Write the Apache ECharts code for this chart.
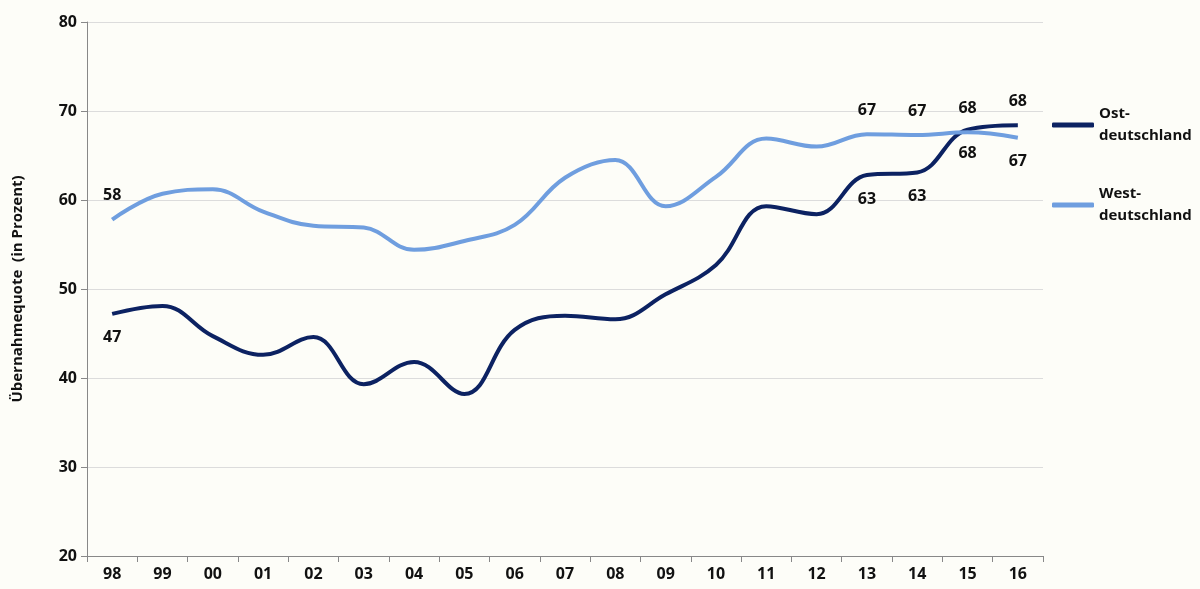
<!DOCTYPE html>
<html>
<head>
<meta charset="utf-8">
<script src="https://cdn.jsdelivr.net/npm/echarts@6/dist/echarts.min.js"></script>
<style>
  html, body { margin: 0; padding: 0; background: #fdfdf8; }
  #main { width: 1200px; height: 589px; }
</style>
</head>
<body>
<div id="main"></div>
<script>
  // Jahre (Kategorien)
  var years = ['98', '99', '00', '01', '02', '03', '04', '05', '06', '07', '08', '09', '10', '11', '12', '13', '14', '15', '16']
  // Übernahmequote in Prozent
  var ost = [47.2, 48.1, 44.7, 42.6, 44.6, 39.3, 41.8, 38.2, 45.4, 47.0, 46.6, 49.4, 52.7, 59.3, 58.4, 62.8, 63.1, 67.9, 68.4]
  var west = [57.8, 60.7, 61.2, 58.7, 57.1, 56.9, 54.4, 55.4, 57.2, 62.5, 64.5, 59.3, 62.6, 66.9, 66.0, 67.4, 67.3, 67.6, 67.0]
  // welche Punkte beschriftet sind
  var ostLabeled = [0, 15, 16, 17, 18]
  var westLabeled = [0, 15, 16, 17, 18]
  var yTicks = [20, 30, 40, 50, 60, 70, 80]

  var font = '"Open Sans", sans-serif'

  function withLabels (values, idx, posFn) {
    return values.map(function (v, i) {
      if (idx.indexOf(i) < 0) return v
      return {
        value: v,
        label: {
          show: true,
          position: posFn(i),
          distance: 16,
          formatter: function (p) { return Math.round(p.value) },
          color: '#111',
          fontWeight: 'bold',
          fontSize: 16,
          fontFamily: font
        }
      }
    })
  }

  var myChart = echarts.init(document.getElementById('main'))
  var option = {
    backgroundColor: '#fdfdf8',
    animation: false,
    grid: { left: 87, right: 157, top: 22, bottom: 33 },
    legend: {
      orient: 'vertical',
      left: 1047,
      top: 98,
      itemWidth: 42,
      itemHeight: 5,
      itemGap: 36,
      icon: 'roundRect',
      textStyle: { fontSize: 15, fontWeight: 'bold', fontFamily: font, color: '#111', lineHeight: 22 },
      data: [
        { name: 'Ost-\ndeutschland', itemStyle: { color: '#0c2262' } },
        { name: 'West-\ndeutschland', itemStyle: { color: '#6f9edf' } }
      ]
    },
    xAxis: {
      type: 'category',
      data: years,
      boundaryGap: true,
      axisLine: { lineStyle: { color: '#888', width: 1 } },
      axisTick: { show: true, length: 6, lineStyle: { color: '#888' } },
      axisLabel: { color: '#111', fontWeight: 'bold', fontSize: 16, fontFamily: font, margin: 10 }
    },
    yAxis: {
      type: 'value',
      min: yTicks[0],
      max: yTicks[yTicks.length - 1],
      interval: 10,
      name: 'Übernahmequote  (in Prozent)',
      nameLocation: 'middle',
      nameGap: 62,
      nameTextStyle: { color: '#111', fontWeight: 'bold', fontSize: 15, fontFamily: font },
      axisLine: { show: true, lineStyle: { color: '#888', width: 1 } },
      axisTick: { show: true, length: 6, lineStyle: { color: '#888' } },
      axisLabel: { color: '#111', fontWeight: 'bold', fontSize: 16, fontFamily: font, margin: 10 },
      splitLine: { lineStyle: { color: '#dcdcdc', width: 1 } }
    },
    series: [
      {
        name: 'Ost-\ndeutschland',
        type: 'line',
        smooth: 0.4,
        symbol: 'circle',
        symbolSize: 0,
        showSymbol: true,
        showAllSymbol: true,
        color: '#0c2262',
        lineStyle: { width: 4, color: '#0c2262' },
        data: withLabels(ost, ostLabeled, function (i) { return i === 18 ? 'top' : 'bottom' })
      },
      {
        name: 'West-\ndeutschland',
        type: 'line',
        smooth: 0.4,
        symbol: 'circle',
        symbolSize: 0,
        showSymbol: true,
        showAllSymbol: true,
        color: '#6f9edf',
        lineStyle: { width: 4, color: '#6f9edf' },
        data: withLabels(west, westLabeled, function (i) { return i === 18 ? 'bottom' : 'top' })
      }
    ]
  }
  myChart.setOption(option)
</script>
</body>
</html>
